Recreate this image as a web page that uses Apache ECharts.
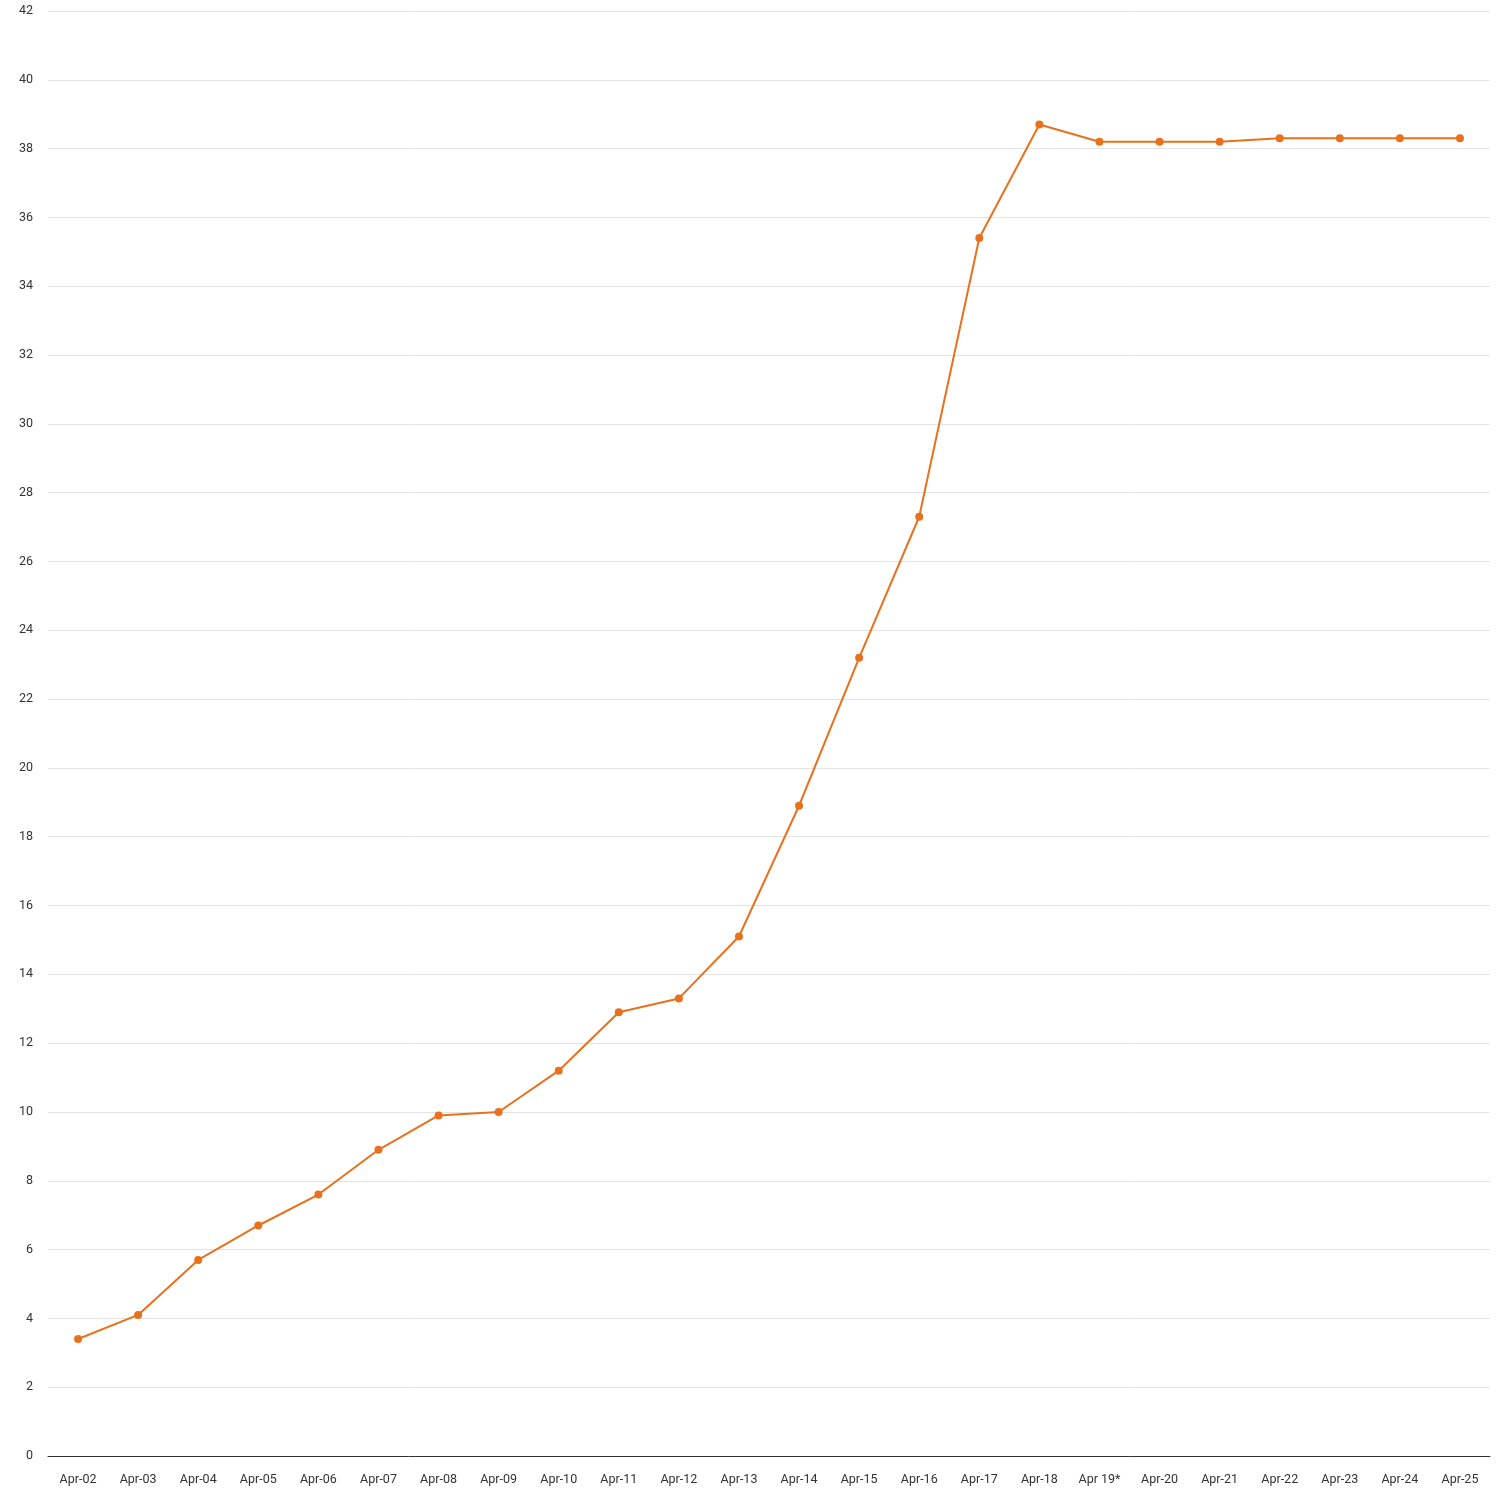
<!DOCTYPE html>
<html>
<head>
<meta charset="utf-8">
<script src="https://cdn.jsdelivr.net/npm/echarts@6/dist/echarts.min.js"></script>
<style>
  html, body { margin: 0; padding: 0; background: #fff; }
  #myChart { width: 1500px; height: 1500px; }
</style>
</head>
<body>
<div id="myChart"></div>
<script>
// 日期
const categories = ['Apr-02', 'Apr-03', 'Apr-04', 'Apr-05', 'Apr-06', 'Apr-07', 'Apr-08', 'Apr-09',
    'Apr-10', 'Apr-11', 'Apr-12', 'Apr-13', 'Apr-14', 'Apr-15', 'Apr-16', 'Apr-17', 'Apr-18',
    'Apr 19*', 'Apr-20', 'Apr-21', 'Apr-22', 'Apr-23', 'Apr-24', 'Apr-25'];
// 数值
const values = [3.4, 4.1, 5.7, 6.7, 7.6, 8.9, 9.9, 10.0, 11.2, 12.9, 13.3, 15.1, 18.9, 23.2, 27.3,
    35.4, 38.7, 38.2, 38.2, 38.2, 38.3, 38.3, 38.3, 38.3];

const lineColor = '#e8711e';

let myChart = echarts.init(document.getElementById('myChart'));

let option = {
    animation: false,
    textStyle: {fontFamily: 'Roboto'},
    grid: {left: 48, right: 10, top: 11, bottom: 44},
    xAxis: {
        type: 'category',
        data: categories,
        axisTick: {show: false},
        axisLine: {lineStyle: {color: '#333', width: 1}},
        axisLabel: {color: '#333', fontSize: 12.5, margin: 17, interval: 0}
    },
    yAxis: {
        type: 'value',
        min: 0,
        max: 42,
        interval: 2,
        axisLine: {show: false},
        axisTick: {show: false},
        axisLabel: {color: '#333', fontSize: 12.5, margin: 15},
        splitLine: {lineStyle: {color: '#e3e3e3', width: 1}}
    },
    series: [{
        type: 'line',
        data: values,
        symbol: 'circle',
        symbolSize: 8,
        itemStyle: {color: lineColor},
        lineStyle: {color: lineColor, width: 2}
    }]
};

myChart.setOption(option);
</script>
</body>
</html>
